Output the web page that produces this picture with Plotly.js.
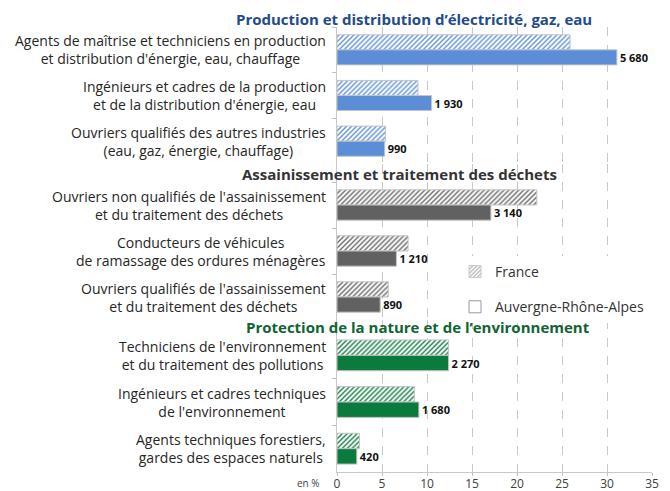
<!DOCTYPE html>
<html>
<head>
<meta charset="utf-8">
<script src="https://cdn.plot.ly/plotly-3.0.1.min.js"></script>
<style>html,body{margin:0;padding:0;background:#fff}#chart{width:670px;height:491px}</style>
</head>
<body>
<div id="chart"></div>
<script>
// ---- Data ----
const groupTitles = [
  "Production et distribution d’électricité, gaz, eau",
  "Assainissement et traitement des déchets",
  "Protection de la nature et de l’environnement"
];
const cats1 = [
  "Agents de maîtrise et techniciens en production<br>et distribution d'énergie, eau, chauffage",
  "Ingénieurs et cadres de la production<br>et de la distribution d'énergie, eau",
  "Ouvriers qualifiés des autres industries<br>(eau, gaz, énergie, chauffage)"
];
const cats2 = [
  "Ouvriers non qualifiés de l'assainissement<br>et du traitement des déchets",
  "Conducteurs de véhicules<br>de ramassage des ordures ménagères",
  "Ouvriers qualifiés de l'assainissement<br>et du traitement des déchets"
];
const cats3 = [
  "Techniciens de l'environnement<br>et du traitement des pollutions",
  "Ingénieurs et cadres techniques<br>de l'environnement",
  "Agents techniques forestiers,<br>gardes des espaces naturels"
];
const france1 = [25.9, 9.0, 5.4];
const ara1    = [31.1, 10.5, 5.3];
const france2 = [22.2, 7.9, 5.7];
const ara2    = [17.1, 6.6, 4.8];
const france3 = [12.4, 8.6, 2.5];
const ara3    = [12.4, 9.1, 2.2];
const araLabels1 = ["5 680", "1 930", "990"];
const araLabels2 = ["3 140", "1 210", "890"];
const araLabels3 = ["2 270", "1 680", "420"];
const seriesNames = ["France", "Auvergne-Rhône-Alpes"];
const xTicks = [0, 5, 10, 15, 20, 25, 30, 35];
const unitLabel = "en %";

// ---- Styles ----
const FONT = "'Open Sans', 'DejaVu Sans', sans-serif";
const groups = [
  {cats: cats1, fr: france1, ara: ara1, lab: araLabels1, color: "#5b8ed7", head: "#1f4b8e", ax: "y"},
  {cats: cats2, fr: france2, ara: ara2, lab: araLabels2, color: "#616161", head: "#333333", ax: "y2"},
  {cats: cats3, fr: france3, ara: ara3, lab: araLabels3, color: "#0b7a3d", head: "#0f6433", ax: "y3"}
];
const edge = {color: "#c4c4c4", width: 1};
const hatch = c => ({shape: "/", fgcolor: c, bgcolor: "#ffffff", size: 3.5, solidity: 0.38, fillmode: "replace"});

const traces = [];
groups.forEach(g => {
  traces.push({
    type: "bar", orientation: "h", name: seriesNames[0], offsetgroup: "fr",
    y: g.cats, x: g.fr, xaxis: "x", yaxis: g.ax, showlegend: false,
    marker: {color: g.color, line: edge, pattern: hatch(g.color)},
    hoverinfo: "x+y"
  });
  traces.push({
    type: "bar", orientation: "h", name: seriesNames[1], offsetgroup: "ara",
    y: g.cats, x: g.ara, xaxis: "x", yaxis: g.ax, showlegend: false,
    marker: {color: g.color, line: edge},
    text: g.lab, textposition: "outside", cliponaxis: false,
    textfont: {family: FONT, size: 11, color: "#111111", weight: 700},
    hoverinfo: "x+y"
  });
});
// legend-only entries (no marks)
traces.push({type: "bar", orientation: "h", name: seriesNames[0], offsetgroup: "fr",
  x: [null], y: [cats2[0]], xaxis: "x", yaxis: "y2", legendgroup: "a", showlegend: true,
  marker: {color: "#a8a8a8", line: {color: "#c8c8c8", width: 1}, pattern: hatch("#a8a8a8")}});
traces.push({type: "bar", orientation: "h", name: seriesNames[1], offsetgroup: "ara",
  x: [null], y: [cats2[0]], xaxis: "x", yaxis: "y2", legendgroup: "b", showlegend: true,
  marker: {color: "#ffffff", line: {color: "#9a9a9a", width: 1}}});

// ---- Layout ----
const T = 27, B = 19, H = 491, plotH = H - T - B, L = 337, R = 18, plotW = 670 - L - R;
const py = px => (H - B - px) / plotH;
const pxX = px => (px - L) / plotW;

function yax(domain, range) {
  return {
    domain: domain, type: "category", range: range, tickson: "boundaries",
    ticks: "outside", ticklen: 4, tickcolor: "#bfbfbf", showticklabels: false,
    showline: true, linecolor: "#c8c8c8", linewidth: 1, showgrid: false, zeroline: false,
    anchor: "x", fixedrange: true
  };
}

const annotations = [];
groups.forEach(g => {
  g.cats.forEach(c => annotations.push({
    xref: "paper", yref: g.ax, x: pxX(328), y: c, xanchor: "right", yanchor: "middle",
    align: "center", text: c, showarrow: false,
    font: {family: FONT, size: 14, color: "#262626"}
  }));
});
const headPos = [[414, 19], [399, 174], [418, 327]];
groups.forEach((g, i) => annotations.push({
  xref: "paper", yref: "paper", x: pxX(headPos[i][0]), y: py(headPos[i][1]),
  xanchor: "center", yanchor: "middle", text: "<b>" + groupTitles[i] + "</b>", showarrow: false,
  font: {family: FONT, size: 15, color: g.head}
}));
annotations.push({xref: "paper", yref: "paper", x: pxX(308), y: py(483), xanchor: "center", yanchor: "middle",
  text: unitLabel, showarrow: false, font: {family: FONT, size: 10, color: "#404040"}});

const layout = {
  width: 670, height: 491,
  margin: {l: L, r: R, t: T, b: B, pad: 0},
  paper_bgcolor: "#ffffff", plot_bgcolor: "#ffffff",
  font: {family: FONT, size: 12, color: "#404040"},
  barmode: "group", bargap: 0.34, bargroupgap: 0,
  showlegend: true,
  legend: {x: pxX(455), y: py(256), xanchor: "left", yanchor: "top", bgcolor: "#ffffff",
    font: {family: FONT, size: 14, color: "#333333"}, traceorder: "grouped", tracegroupgap: 14,
    itemwidth: 30},
  xaxis: {
    range: [0, 35], tickvals: xTicks, ticks: "outside", ticklen: 3, tickcolor: "#bfbfbf",
    ticklabelstandoff: -2,
    showgrid: true, gridcolor: "#c8c8c8", griddash: "dash", gridwidth: 1,
    showline: true, linecolor: "#c8c8c8", zeroline: false, anchor: "y3",
    tickfont: {family: FONT, size: 12, color: "#404040"}, fixedrange: true
  },
  yaxis:  yax([py(164), 1], [2.5, -0.5]),
  yaxis2: yax([py(320), py(164)], [2.5, -0.5 - 18 / 46]),
  yaxis3: yax([0, py(320)], [2.5, -0.5 - 12 / 46.67]),
  annotations: annotations
};

Plotly.newPlot("chart", traces, layout, {displayModeBar: false, staticPlot: true});
</script>
</body>
</html>
